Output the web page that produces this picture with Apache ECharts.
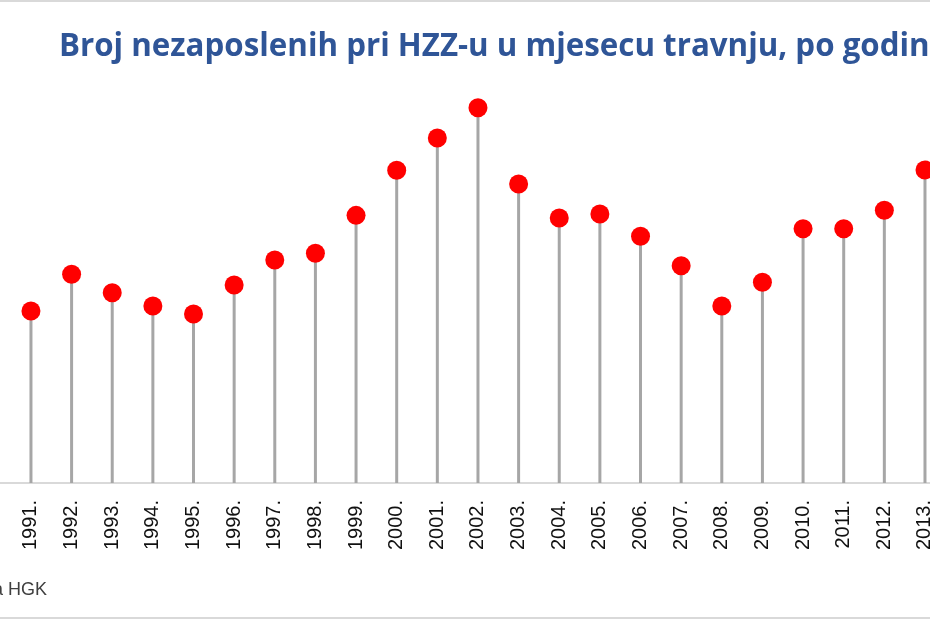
<!DOCTYPE html>
<html>
<head>
<meta charset="utf-8">
<script src="https://cdn.jsdelivr.net/npm/echarts@6/dist/echarts.min.js"></script>
<style>
html,body{margin:0;padding:0;background:#fff;}
#chart{width:930px;height:620px;}
</style>
</head>
<body>
<div id="chart"></div>
<script>
const years = ['1990.','1991.','1992.','1993.','1994.','1995.','1996.','1997.','1998.','1999.','2000.','2001.','2002.','2003.','2004.','2005.','2006.','2007.','2008.','2009.','2010.','2011.','2012.','2013.'];
const unemployed = [null,250500,282600,266500,254900,247900,273300,295100,301000,334200,373600,401900,428400,361600,331900,335400,315900,290100,254900,275600,322500,322500,338600,373900];
const titleText = 'Broj nezaposlenih pri HZZ-u u mjesecu travnju, po godinama';
const sourceText = 'Izvor: HZZ; obrada HGK';

const chart = echarts.init(document.getElementById('chart'));
chart.setOption({
  backgroundColor: '#fff',
  animation: false,
  title: {
    text: titleText,
    left: 54,
    top: 27,
    textStyle: {fontFamily: 'Open Sans', fontWeight: 'bold', fontSize: 31.3, color: '#2F5597'}
  },
  graphic: [
    {type: 'rect', shape: {x: -10, y: 1, width: 950, height: 617}, style: {fill: 'none', stroke: '#d9d9d9', lineWidth: 2}, silent: true},
    {type: 'text', x: 47, y: 590, style: {text: sourceText, align: 'right', verticalAlign: 'middle', fontFamily: 'Liberation Sans', fontSize: 18, fill: '#404040'}}
  ],
  grid: {left: -30, right: -15.3, top: 83, bottom: 137, outerBoundsMode: 'none', containLabel: false},
  xAxis: {
    type: 'category',
    data: years,
    boundaryGap: true,
    axisLine: {show: true, lineStyle: {color: '#d9d9d9', width: 2}},
    axisTick: {show: false},
    axisLabel: {rotate: 90, interval: 0, margin: 17, fontFamily: 'Liberation Sans', fontSize: 20, color: '#111'}
  },
  yAxis: {
    type: 'value',
    min: 100000,
    max: 450000,
    show: false,
    splitLine: {show: false}
  },
  series: [
    {
      type: 'bar',
      data: unemployed,
      barWidth: 3,
      itemStyle: {color: '#a6a6a6'},
      silent: true,
      z: 1
    },
    {
      type: 'scatter',
      data: unemployed,
      symbol: 'circle',
      symbolSize: 19,
      itemStyle: {color: '#ff0000', opacity: 1},
      z: 3
    }
  ]
});
</script>
</body>
</html>
